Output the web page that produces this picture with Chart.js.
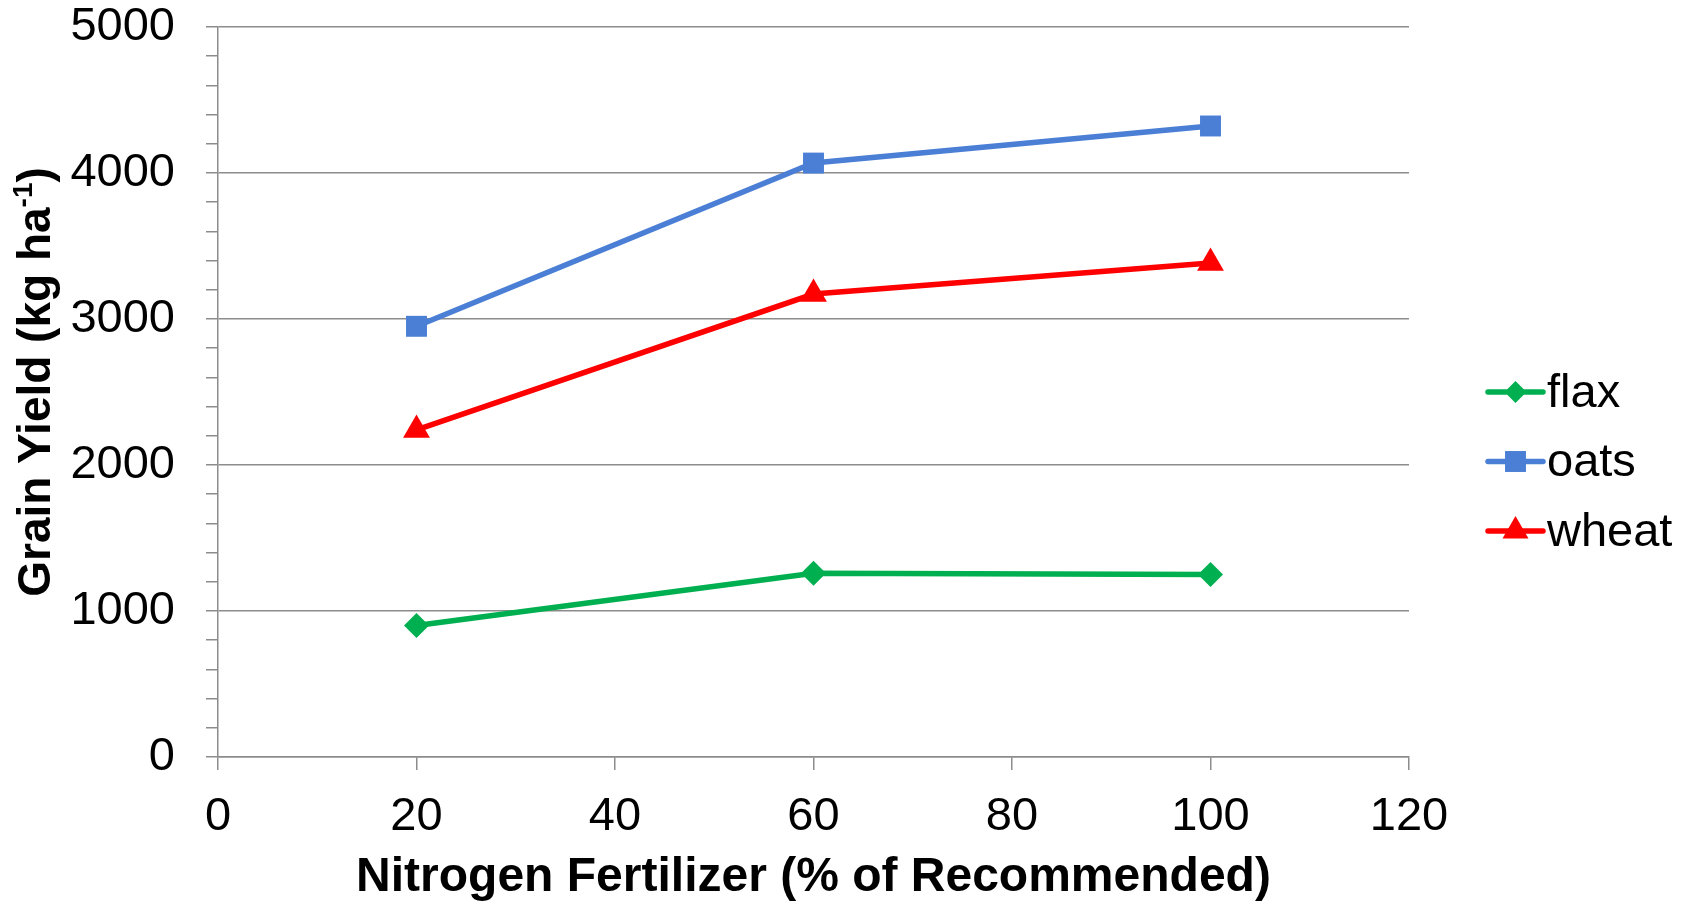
<!DOCTYPE html>
<html>
<head>
<meta charset="utf-8">
<title>Grain yield vs nitrogen</title>
<script src="https://cdn.jsdelivr.net/npm/chart.js@4"></script>
<style>
  html, body { margin: 0; padding: 0; background: #fff; }
  canvas { display: block; }
</style>
</head>
<body>
<canvas id="myChart" width="1694" height="904"></canvas>
<script>
// nitrogen rate, % of recommended
var nitrogen = [20, 60, 100]
// grain yield, kg/ha
var flax = [900, 1258, 1250]
var oats = [2950, 4068, 4322]
var wheat = [2240, 3171, 3384]

var xTicks = [0, 20, 40, 60, 80, 100, 120]
var yTicks = [0, 1000, 2000, 3000, 4000, 5000]

var gray = "#8c8c8c"
var fontName = "'Liberation Sans', Arial, sans-serif"

function points(vals){
    var out = []
    for (var i = 0; i < nitrogen.length; i++) out.push({x: nitrogen[i], y: vals[i]})
    return out
}

function series(label, vals, color, style, r){
    return {
        label: label,
        data: points(vals),
        borderColor: color,
        backgroundColor: color,
        borderWidth: 5.5,
        pointStyle: style,
        pointRadius: r,
        pointHoverRadius: r,
        pointBorderWidth: 0,
        tension: 0
    }
}

// y title with a superscript, drawn by hand since the scale title can't do it
var yTitle = {
    id: "yTitle",
    afterDraw: function(chart){
        var ctx = chart.ctx
        var a = chart.chartArea
        var main = "Grain Yield (kg ha"
        var sup = "-1"
        var end = ")"
        ctx.save()
        ctx.fillStyle = "#000"
        ctx.font = "bold 46px " + fontName
        var w1 = ctx.measureText(main).width
        var w3 = ctx.measureText(end).width
        ctx.font = "bold 28px " + fontName
        var w2 = ctx.measureText(sup).width
        var total = w1 + w2 + w3
        ctx.translate(a.left - 185, (a.top + a.bottom) / 2 - 10)
        ctx.rotate(-Math.PI / 2)
        ctx.textBaseline = "alphabetic"
        ctx.textAlign = "left"
        var x = -total / 2
        var base = 17
        ctx.font = "bold 46px " + fontName
        ctx.fillText(main, x, base)
        ctx.font = "bold 28px " + fontName
        ctx.fillText(sup, x + w1, base - 18)
        ctx.font = "bold 46px " + fontName
        ctx.fillText(end, x + w1 + w2, base)
        ctx.restore()
    }
}

// legend on the right: short line with the marker on it, then the name
var sideLegend = {
    id: "sideLegend",
    afterDraw: function(chart){
        var ctx = chart.ctx
        var a = chart.chartArea
        var x0 = a.right + 79
        var x1 = x0 + 55
        var y0 = (a.top + a.bottom) / 2
        var sizes = [11, 14.8, 15]
        ctx.save()
        chart.data.datasets.forEach(function(ds, i){
            var y = y0 + i * 69.5
            ctx.strokeStyle = ds.borderColor
            ctx.fillStyle = ds.backgroundColor
            ctx.lineWidth = 5.5
            ctx.lineCap = "round"
            ctx.beginPath()
            ctx.moveTo(x0, y)
            ctx.lineTo(x1, y)
            ctx.stroke()
            Chart.helpers.drawPoint(ctx, {pointStyle: ds.pointStyle, radius: sizes[i], rotation: 0, borderWidth: 0}, (x0 + x1) / 2, y)
            ctx.fillStyle = "#000"
            ctx.font = "47px " + fontName
            ctx.textBaseline = "middle"
            ctx.textAlign = "left"
            ctx.fillText(ds.label, x1 + 4, y + 2)
        })
        ctx.restore()
    }
}

var myChart = document.getElementById("myChart").getContext("2d")

var chart = new Chart(myChart, {
    type: "line",
    data: {
        datasets: [
            series("flax", flax, "#00b050", "rectRot", 12.5),
            series("oats", oats, "#4a7fd5", "rect", 14.8),
            series("wheat", wheat, "#ff0000", "triangle", 15.5)
        ]
    },
    options: {
        responsive: false,
        animation: false,
        layout: { padding: { left: 0, top: 0, right: 285, bottom: 0 } },
        plugins: {
            legend: { display: false },
            tooltip: { enabled: false }
        },
        scales: {
            x: {
                type: "linear",
                min: xTicks[0],
                max: xTicks[xTicks.length - 1],
                afterBuildTicks: function(scale){
                    scale.ticks = xTicks.map(function(v){ return {value: v} })
                },
                afterFit: function(scale){
                    scale.height = 147
                    scale.paddingTop = 0
                    scale.paddingBottom = 0
                },
                grid: { drawOnChartArea: false, drawTicks: true, tickLength: 13, tickColor: gray, lineWidth: 1.5 },
                border: { color: gray, width: 1.5 },
                ticks: { color: "#000", font: { family: fontName, size: 47 }, padding: 19, maxRotation: 0 },
                title: {
                    display: true,
                    text: "Nitrogen Fertilizer (% of Recommended)",
                    color: "#000",
                    font: { family: fontName, size: 48, weight: "bold", lineHeight: 1 },
                    padding: { top: 0, bottom: 2 }
                }
            },
            y: {
                min: yTicks[0],
                max: yTicks[yTicks.length - 1],
                ticks: {
                    stepSize: 200,
                    autoSkip: false,
                    color: "#000",
                    font: { family: fontName, size: 47, lineHeight: 1.15 },
                    padding: 31,
                    callback: function(v){ return yTicks.indexOf(v) >= 0 ? String(v) : "" }
                },
                afterFit: function(scale){
                    scale.width = 218
                    scale.paddingTop = 27
                    scale.paddingBottom = 0
                },
                grid: {
                    color: function(c){ return yTicks.indexOf(c.tick.value) >= 0 ? gray : "rgba(0,0,0,0)" },
                    tickColor: gray,
                    tickLength: 12,
                    lineWidth: 1.5
                },
                border: { color: gray, width: 1.5 }
            }
        }
    },
    plugins: [yTitle, sideLegend]
})
</script>
</body>
</html>
